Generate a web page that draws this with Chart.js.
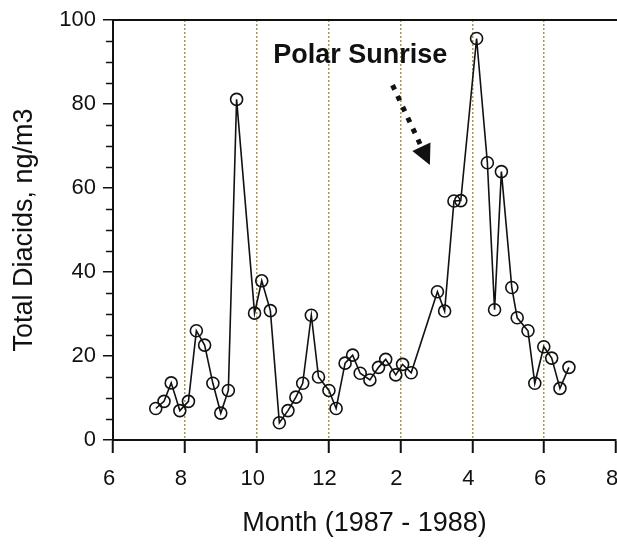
<!DOCTYPE html>
<html>
<head>
<meta charset="utf-8">
<title>Total Diacids</title>
<script src="https://cdn.jsdelivr.net/npm/chart.js@4.4.0/dist/chart.umd.min.js"></script>
<style>
  html, body { margin: 0; padding: 0; background: #fff; }
  #wrap { width: 617px; height: 548px; }
</style>
</head>
<body>
<div id="wrap"><canvas id="diacids" width="617" height="548"></canvas></div>
<script>
'use strict';

// Sampling time in months counted from Jan 1987 (13 = Jan 1988)
const sampleMonths = [
  7.19, 7.42, 7.62, 7.86, 8.10, 8.32, 8.55, 8.78, 9.00, 9.21,
  9.44, 9.94, 10.14, 10.38, 10.63, 10.87, 11.09, 11.28, 11.52, 11.72,
  12.01, 12.21, 12.46, 12.67, 12.88, 13.15, 13.39, 13.59, 13.87, 14.06,
  14.30, 15.03, 15.23, 15.49, 15.68, 16.12, 16.42, 16.62, 16.81, 17.10,
  17.25, 17.55, 17.74, 17.99, 18.21, 18.44, 18.69
];
// Total diacids, ng/m3
const totalDiacids = [
  7.5, 9.2, 13.6, 7.0, 9.2, 26.0, 22.6, 13.5, 6.4, 11.8,
  81.1, 30.2, 37.9, 30.8, 4.1, 7.0, 10.2, 13.5, 29.7, 15.0,
  11.8, 7.5, 18.3, 20.2, 15.9, 14.3, 17.3, 19.2, 15.5, 18.0,
  16.0, 35.3, 30.7, 56.9, 57.0, 95.6, 66.0, 31.0, 63.9, 36.3,
  29.1, 26.0, 13.5, 22.2, 19.5, 12.3, 17.3
];
const monthTicks = [6, 8, 10, 12, 14, 16, 18, 20];
const diacidTicks = [0, 20, 40, 60, 80, 100];
const diacidMinorTicks = [5, 10, 15, 25, 30, 35, 45, 50, 55, 65, 70, 75, 85, 90, 95];

const FONT = "'Liberation Sans', Arial, Helvetica, sans-serif";
const INK = '#111';
const GRID_OLIVE = '#a8984f';

// note + arrow, placed in data units
const polarNote = { text: 'Polar Sunrise', x: 12.88, y: 91.5 };
const polarArrow = { from: { x: 13.78, y: 84.5 }, to: { x: 14.82, y: 65.5 } };

const decorations = {
  id: 'decorations',
  afterDraw(chart) {
    const { ctx, chartArea: area, scales: { x, y } } = chart;
    ctx.save();

    // frame line along the top
    ctx.strokeStyle = INK;
    ctx.lineWidth = 2;
    ctx.beginPath();
    ctx.moveTo(area.left, area.top);
    ctx.lineTo(chart.width, area.top);
    ctx.stroke();

    // short minor ticks on the left axis
    ctx.lineWidth = 1.5;
    diacidMinorTicks.forEach(v => {
      const py = Math.round(y.getPixelForValue(v)) + 0.5;
      ctx.beginPath();
      ctx.moveTo(area.left - 7, py);
      ctx.lineTo(area.left, py);
      ctx.stroke();
    });

    // Polar Sunrise label
    ctx.fillStyle = INK;
    ctx.font = `bold 27px ${FONT}`;
    ctx.textAlign = 'center';
    ctx.textBaseline = 'middle';
    ctx.fillText(polarNote.text, x.getPixelForValue(polarNote.x), y.getPixelForValue(polarNote.y));

    // dotted arrow with a filled head
    const x0 = x.getPixelForValue(polarArrow.from.x), y0 = y.getPixelForValue(polarArrow.from.y);
    const x1 = x.getPixelForValue(polarArrow.to.x), y1 = y.getPixelForValue(polarArrow.to.y);
    const ang = Math.atan2(y1 - y0, x1 - x0);
    const cos = Math.cos(ang), sin = Math.sin(ang);
    const headLen = 20, headHalf = 10;
    const bx = x1 - headLen * cos, by = y1 - headLen * sin;

    ctx.setLineDash([5, 7]);
    ctx.lineWidth = 5;
    ctx.lineCap = 'butt';
    ctx.beginPath();
    ctx.moveTo(x0, y0);
    ctx.lineTo(bx - 3 * cos, by - 3 * sin);
    ctx.stroke();

    ctx.setLineDash([]);
    ctx.beginPath();
    ctx.moveTo(x1, y1);
    ctx.lineTo(bx + headHalf * sin, by - headHalf * cos);
    ctx.lineTo(bx - headHalf * sin, by + headHalf * cos);
    ctx.closePath();
    ctx.fill();

    ctx.restore();
  }
};

new Chart(document.getElementById('diacids'), {
  type: 'line',
  data: {
    datasets: [{
      data: sampleMonths.map((m, i) => ({ x: m, y: totalDiacids[i] })),
      borderColor: INK,
      borderWidth: 1.6,
      tension: 0,
      fill: false,
      pointRadius: 6,
      pointBorderWidth: 1.6,
      pointBorderColor: INK,
      pointBackgroundColor: 'rgba(0,0,0,0)'
    }]
  },
  options: {
    responsive: false,
    animation: false,
    layout: { autoPadding: false, padding: { top: 20, right: 1, left: 0, bottom: 0 } },
    plugins: { legend: { display: false }, tooltip: { enabled: false } },
    scales: {
      x: {
        type: 'linear',
        min: 6,
        max: 20,
        afterBuildTicks: s => { s.ticks = monthTicks.map(v => ({ value: v })); },
        afterFit: s => { s.height = 108; s.paddingLeft = 0; s.paddingRight = 0; },
        grid: {
          // no dotted line on the right edge
          color: c => (c.tick && c.tick.value === 20 ? 'rgba(0,0,0,0)' : GRID_OLIVE),
          lineWidth: 1.5,
          borderDash: [2, 2],
          tickLength: 13,
          tickColor: INK,
          tickWidth: 2,
          tickBorderDash: []
        },
        border: { color: INK, width: 2, dash: [2, 2] },
        ticks: {
          color: INK,
          font: { family: FONT, size: 22 },
          padding: 13,
          labelOffset: -4,
          maxRotation: 0,
          autoSkip: false,
          callback: v => (v > 12 ? v - 12 : v)
        },
        title: {
          display: true,
          text: 'Month (1987 - 1988)',
          color: INK,
          font: { family: FONT, size: 27 },
          padding: { top: 0, bottom: 8 }
        }
      },
      y: {
        min: 0,
        max: 100,
        afterBuildTicks: s => { s.ticks = diacidTicks.map(v => ({ value: v })); },
        afterFit: s => { s.width = 113; s.paddingTop = 0; s.paddingBottom = 0; },
        grid: { drawOnChartArea: false, tickLength: 10, color: INK, lineWidth: 1.5 },
        border: { color: INK, width: 2 },
        ticks: { color: INK, font: { family: FONT, size: 22 }, padding: 7 },
        title: {
          display: true,
          text: 'Total Diacids, ng/m3',
          color: INK,
          font: { family: FONT, size: 27 },
          padding: { top: 8, bottom: 0 }
        }
      }
    }
  },
  plugins: [decorations]
});
</script>
</body>
</html>
